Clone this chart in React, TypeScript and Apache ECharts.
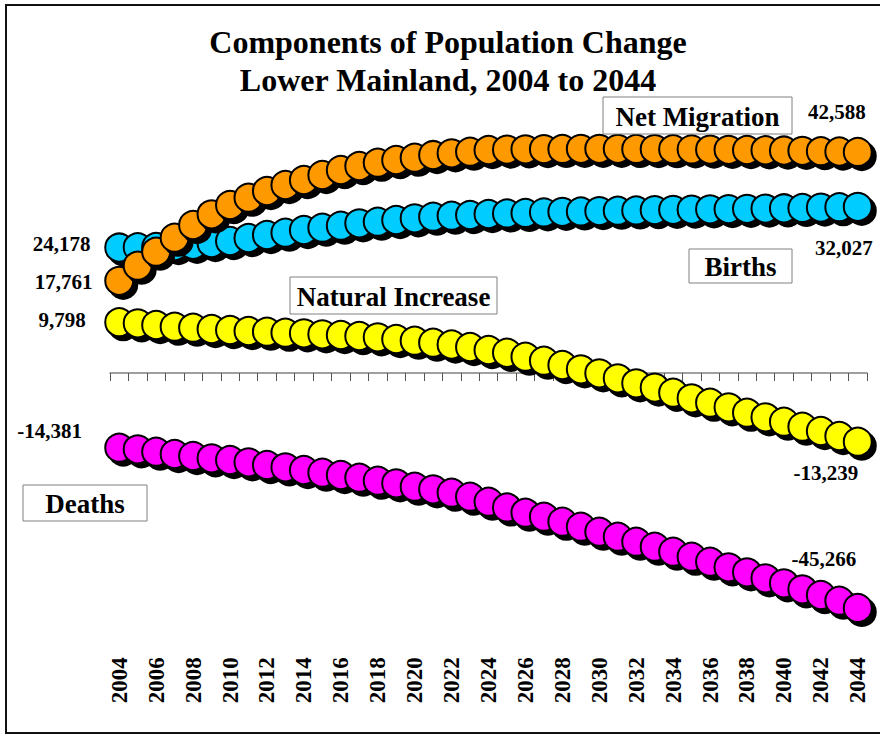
import React, { useEffect, useRef } from 'react';
import * as echarts from 'echarts';

const years = [
  '2004', '2005', '2006', '2007', '2008', '2009', '2010', '2011', '2012', '2013',
  '2014', '2015', '2016', '2017', '2018', '2019', '2020', '2021', '2022', '2023',
  '2024', '2025', '2026', '2027', '2028', '2029', '2030', '2031', '2032', '2033',
  '2034', '2035', '2036', '2037', '2038', '2039', '2040', '2041', '2042', '2043', '2044',
];

const births = [
  24178, 24250, 24300, 24450, 24700, 25050, 25434, 26012, 26590, 27033,
  27553, 27996, 28382, 28844, 29152, 29480, 29807, 30116, 30308, 30443,
  30636, 30750, 30850, 30950, 31050, 31130, 31200, 31270, 31330, 31390,
  31440, 31490, 31540, 31590, 31640, 31690, 31740, 31800, 31870, 31950, 32027,
];

const netMigration = [
  17761, 20675, 23372, 26070, 28516, 30578, 32370, 33776, 35067, 36224,
  37187, 38150, 39114, 39884, 40520, 41040, 41484, 42003, 42331, 42640,
  42967, 43050, 43100, 43150, 43180, 43200, 43200, 43190, 43170, 43150,
  43120, 43090, 43050, 43010, 42970, 42920, 42870, 42810, 42750, 42680, 42588,
];

const naturalIncrease = [
  9798, 9576, 9249, 8921, 8728, 8478, 8285, 8092, 7958, 7765,
  7649, 7457, 7322, 7129, 6879, 6551, 6224, 5838, 5491, 5010,
  4432, 3900, 3141, 2370, 1541, 713, -58, -1021, -1985, -2800,
  -3800, -4875, -5723, -6609, -7649, -8536, -9383, -10347, -11175, -12139, -13239,
];

const deaths = [
  -14381, -14701, -15164, -15607, -15992, -16435, -16763, -17206, -17726, -18170,
  -18690, -19210, -19653, -20173, -20751, -21252, -21908, -22408, -23064, -23834,
  -24800, -25900, -26917, -27688, -28651, -29615, -30578, -31541, -32505, -33468,
  -34432, -35395, -36358, -37437, -38401, -39557, -40520, -41676, -42775, -43873, -45266,
];

const FONT = "'Liberation Serif', 'Times New Roman', Times, serif";

const fmt = (v: number) => {
  const s = Math.abs(v).toString().replace(/\B(?=(\d{3})+(?!\d))/g, ',');
  return (v < 0 ? '-' : '') + s;
};

function makeData(values: number[], firstOffset: number[], lastOffset: number[]) {
  const last = values.length - 1;
  return values.map((v, i) => {
    if (i === 0 || i === last) {
      return {
        value: [years[i], v],
        label: {
          show: true,
          position: 'inside',
          offset: i === 0 ? firstOffset : lastOffset,
          formatter: (p: any) => fmt(p.value[1]),
          color: '#000',
          fontFamily: FONT,
          fontWeight: 'bold',
          fontSize: 21,
        },
      };
    }
    return [years[i], v];
  });
}

function seriesOf(name: string, color: string, data: any[]) {
  return {
    name,
    type: 'scatter',
    symbol: 'circle',
    symbolSize: 28,
    data,
    itemStyle: {
      color,
      borderColor: '#000',
      borderWidth: 2,
      shadowColor: '#000',
      shadowBlur: 0,
      shadowOffsetX: 4,
      shadowOffsetY: 4,
      opacity: 1,
    },
    emphasis: { disabled: true },
    silent: true,
  };
}

function labelBox(x: number, y: number, w: number, h: number, text: string) {
  return {
    type: 'group',
    z: 100,
    children: [
      {
        type: 'rect',
        z: 100,
        shape: { x, y, width: w, height: h },
        style: { fill: '#fff', stroke: '#808080', lineWidth: 1 },
      },
      {
        type: 'text',
        z: 101,
        x: x + w / 2,
        y: y + h / 2 + 1,
        style: {
          text,
          font: `bold 27px ${FONT}`,
          fill: '#000',
          align: 'center',
          verticalAlign: 'middle',
          textAlign: 'center',
          textVerticalAlign: 'middle',
        },
      },
    ],
  };
}

export default function App() {
  const ref = useRef<HTMLDivElement>(null);

  useEffect(() => {
    if (!ref.current) return;
    const chart = echarts.init(ref.current, undefined, { renderer: 'svg' });
    const option: any = {
      animation: false,
      backgroundColor: '#fff',
      grid: { left: 110, right: 13, top: 92.75, bottom: 82.75, containLabel: false },
      xAxis: [
        {
          type: 'category',
          data: years,
          boundaryGap: true,
          axisLine: { show: true, onZero: true, lineStyle: { color: '#808080', width: 1.5 } },
          axisTick: { show: true, interval: 0, length: 8, lineStyle: { color: '#555', width: 1 } },
          axisLabel: { show: false },
          splitLine: { show: false },
        },
        {
          type: 'category',
          data: years,
          position: 'bottom',
          boundaryGap: true,
          axisLine: { show: false, onZero: false },
          axisTick: { show: false },
          axisLabel: {
            show: true,
            interval: 1,
            rotate: 90,
            margin: 4,
            color: '#000',
            fontFamily: FONT,
            fontWeight: 'bold',
            fontSize: 23,
          },
          splitLine: { show: false },
        },
      ],
      yAxis: {
        type: 'value',
        min: -54000,
        max: 54000,
        axisLine: { show: false },
        axisTick: { show: false },
        axisLabel: { show: false },
        splitLine: { show: false },
      },
      series: [
        seriesOf('Natural Increase', '#FFFF00', makeData(naturalIncrease, [-57, -2], [-32, 31])),
        seriesOf('Deaths', '#FF00FF', makeData(deaths, [-69.5, -16.6], [-34, -49])),
        seriesOf('Births', '#00CCFF', makeData(births, [-57.5, -4], [-14, 41])),
        seriesOf('Net Migration', '#FF9900', makeData(netMigration, [-55.5, 1], [-21, -40])),
      ],
      graphic: [
        {
          type: 'rect',
          z: 100,
          silent: true,
          shape: { x: 6, y: 5, width: 900, height: 728 },
          style: { fill: 'none', stroke: '#111', lineWidth: 2 },
        },
        {
          type: 'text',
          z: 100,
          x: 448,
          y: 42,
          style: {
            text: 'Components of Population Change',
            font: `bold 32px ${FONT}`,
            fill: '#000',
            align: 'center',
            verticalAlign: 'middle',
            textAlign: 'center',
            textVerticalAlign: 'middle',
          },
        },
        {
          type: 'text',
          z: 100,
          x: 448,
          y: 80,
          style: {
            text: 'Lower Mainland, 2004 to 2044',
            font: `bold 32px ${FONT}`,
            fill: '#000',
            align: 'center',
            verticalAlign: 'middle',
            textAlign: 'center',
            textVerticalAlign: 'middle',
          },
        },
        labelBox(603, 97, 189, 37, 'Net Migration'),
        labelBox(689, 249, 103, 34, 'Births'),
        labelBox(290, 277, 207, 37, 'Natural Increase'),
        labelBox(23, 485, 124, 36, 'Deaths'),
      ],
    };
    chart.setOption(option);
    return () => chart.dispose();
  }, []);

  return (
    <div
      ref={ref}
      style={{ position: 'absolute', left: 0, top: 0, width: 880, height: 736, background: '#fff' }}
    />
  );
}
